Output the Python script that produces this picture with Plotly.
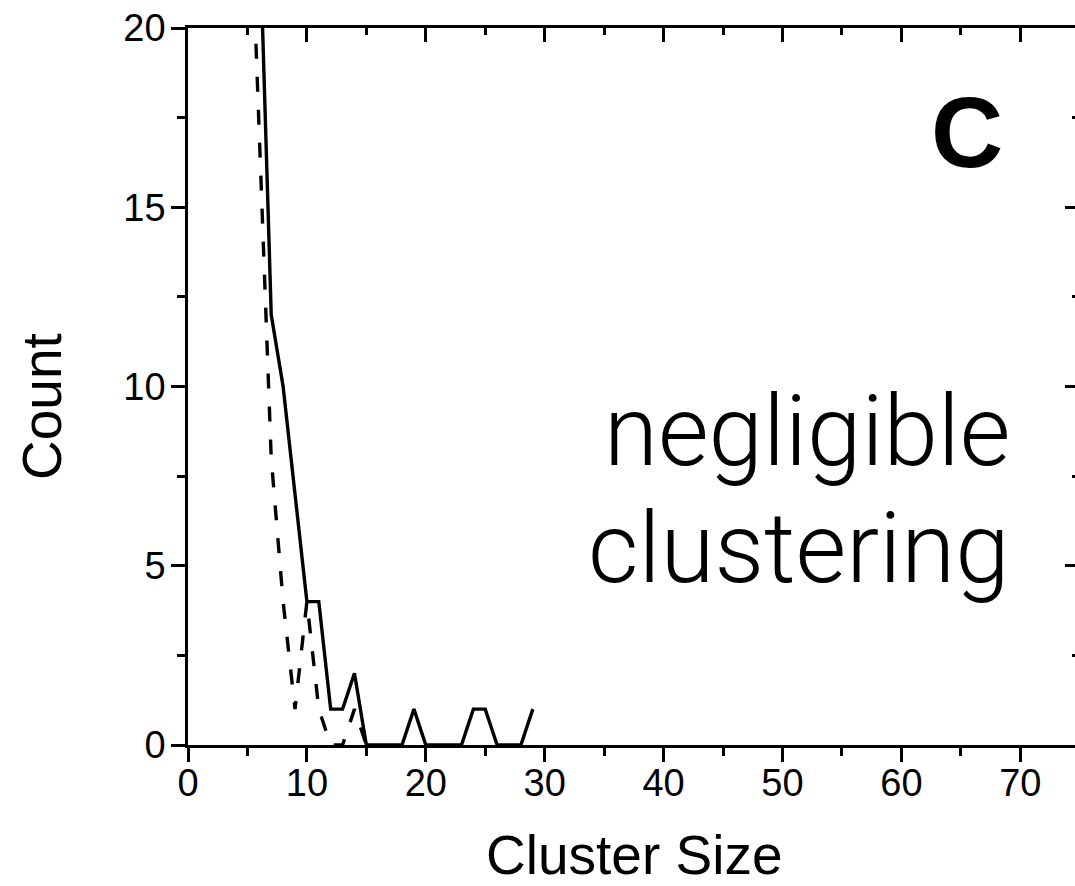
import plotly.graph_objects as go

# Cluster-size histograms (counts per cluster size)
cluster_size_solid = list(range(6, 30))
count_solid = [23, 12, 10, 7, 4, 4, 1, 1, 2, 0, 0, 0, 0, 1, 0, 0, 0, 0, 1, 1, 0, 0, 0, 1]

cluster_size_dashed = list(range(5, 16))
count_dashed = [26, 17, 8, 4, 1, 4, 1, 0, 0, 1, 0]

x_tick_vals = [0, 10, 20, 30, 40, 50, 60, 70]
x_tick_text = ["0", "10", "20", "30", "40", "50", "60", "70"]
y_tick_vals = [0, 5, 10, 15, 20]
y_tick_text = ["0", "5", "10", "15", "20"]

W, H = 1075, 886
ML, MR, MT, MB = 188, 0, 28, 141
PX_PER_UNIT = 11.89
X_MAX = (W - ML - MR) / PX_PER_UNIT

FONT = "Liberation Sans"
TICK_FONT = dict(family=FONT, size=38, color="black")
LW = 2.6


def px_to_paper(px, py):
    return (px - ML) / (W - ML - MR), (H - MB - py) / (H - MT - MB)


fig = go.Figure()
fig.add_trace(go.Scatter(
    x=cluster_size_solid, y=count_solid, mode="lines",
    line=dict(color="black", width=3.4), showlegend=False, hoverinfo="skip"))
fig.add_trace(go.Scatter(
    x=cluster_size_dashed, y=count_dashed, mode="lines",
    line=dict(color="black", width=3.4, dash="15px,18px"),
    showlegend=False, hoverinfo="skip"))
# carrier trace for the mirrored top/right axes
fig.add_trace(go.Scatter(x=[None], y=[None], xaxis="x2", yaxis="y2",
                         showlegend=False, hoverinfo="skip"))

common = dict(showgrid=False, zeroline=False, linecolor="black", linewidth=LW,
              tickcolor="black", tickwidth=LW)

fig.update_layout(
    width=W, height=H,
    margin=dict(l=ML, r=MR, t=MT, b=MB, pad=0),
    paper_bgcolor="white", plot_bgcolor="white",
    xaxis=dict(range=[0, X_MAX], tickmode="array", tickvals=x_tick_vals,
               ticktext=x_tick_text, ticks="outside", ticklen=14,
               showline=True, tickfont=TICK_FONT, ticklabelstandoff=-11,
               minor=dict(ticks="outside", ticklen=8, tickwidth=LW,
                          tickcolor="black", dtick=5, tick0=0, showgrid=False),
               **common),
    xaxis2=dict(range=[0, X_MAX], overlaying="x", side="top", anchor="y",
                tickmode="array", tickvals=x_tick_vals, ticks="inside",
                ticklen=14, showline=True, showticklabels=False,
                minor=dict(ticks="inside", ticklen=7, tickwidth=LW,
                           tickcolor="black", dtick=5, tick0=0, showgrid=False),
                **common),
    yaxis=dict(range=[0, 20], tickmode="array", tickvals=y_tick_vals,
               ticktext=y_tick_text, ticks="outside", ticklen=14,
               showline=True, tickfont=TICK_FONT, ticklabelstandoff=-2,
               minor=dict(ticks="outside", ticklen=8, tickwidth=LW,
                          tickcolor="black", dtick=2.5, tick0=0, showgrid=False),
               **common),
    yaxis2=dict(range=[0, 20], overlaying="y", side="right", anchor="x",
                tickmode="array", tickvals=y_tick_vals, ticks="inside",
                ticklen=10, showline=False, showticklabels=False,
                minor=dict(ticks="inside", ticklen=3.5, tickwidth=LW,
                           tickcolor="black", dtick=2.5, tick0=0, showgrid=False),
                showgrid=False, zeroline=False, tickcolor="black", tickwidth=LW),
)

annotations = []


def add_text(text, px, py, size, xanchor="center", yanchor="middle",
             family=FONT, weight="normal", angle=0):
    ax, ay = px_to_paper(px, py)
    annotations.append(dict(
        text=text, x=ax, y=ay, xref="paper", yref="paper",
        xanchor=xanchor, yanchor=yanchor, showarrow=False, textangle=angle,
        font=dict(family=family, size=size, color="black", weight=weight)))


add_text("Cluster Size", 634, 855, 55)
add_text("Count", 42, 407, 55, angle=-90)
add_text("C", 967, 132, 100, weight="bold")
add_text("negligible", 1012, 431, 98, xanchor="right", family="Roboto", weight=300)
add_text("clustering", 1012, 548, 98, xanchor="right", family="Roboto", weight=300)

fig.update_layout(annotations=annotations)

fig.write_html("out.html")
